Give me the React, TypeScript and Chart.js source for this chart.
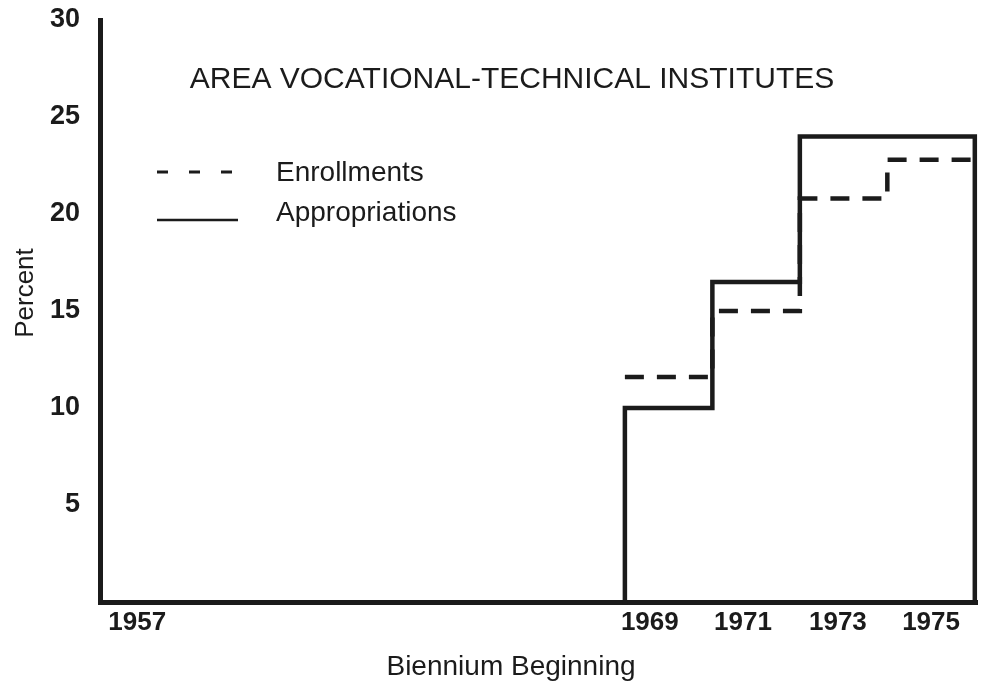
import React, { useEffect, useRef } from 'react';
import { Chart, registerables } from 'chart.js';

Chart.register(...registerables);

// ---- data ----
const bienniumStarts = [1969, 1971, 1973, 1975];
const bienniumEnd = 1977;
const appropriations = [10, 16.5, 24, 24];
const enrollments = [11.6, 15, 20.8, 22.8];

const xTickLabels = ['1957', '1969', '1971', '1973', '1975'];
const xTickPositions = [1957.85, 1969.57, 1971.7, 1973.87, 1976.0];
const yTickValues = [5, 10, 15, 20, 25, 30];

const titleText = 'AREA VOCATIONAL-TECHNICAL INSTITUTES';
const legendLabels = ['Enrollments', 'Appropriations'];
const xAxisTitle = 'Biennium Beginning';
const yAxisTitle = 'Percent';

const INK = '#1b1b1b';

const overlayPlugin = {
  id: 'overlayText',
  afterDraw(chart: any) {
    const ctx = chart.ctx as CanvasRenderingContext2D;
    ctx.save();
    ctx.fillStyle = INK;
    ctx.strokeStyle = INK;

    // title inside plot
    ctx.font = '30px "Liberation Sans", Arial, sans-serif';
    ctx.textAlign = 'center';
    ctx.textBaseline = 'alphabetic';
    ctx.fillText(titleText, 512, 88);

    // legend
    ctx.font = '28px "Liberation Sans", Arial, sans-serif';
    ctx.textAlign = 'left';
    ctx.fillText(legendLabels[0], 276, 181);
    ctx.fillText(legendLabels[1], 276, 221);

    ctx.lineWidth = 3;
    ctx.setLineDash([11, 21]);
    ctx.beginPath();
    ctx.moveTo(157, 172);
    ctx.lineTo(236, 172);
    ctx.stroke();
    ctx.setLineDash([]);
    ctx.lineWidth = 2.5;
    ctx.beginPath();
    ctx.moveTo(157, 220);
    ctx.lineTo(238, 220);
    ctx.stroke();

    // axis titles
    ctx.font = '28px "Liberation Sans", Arial, sans-serif';
    ctx.textAlign = 'center';
    ctx.fillText(xAxisTitle, 511, 675);

    ctx.translate(33, 293);
    ctx.rotate(-Math.PI / 2);
    ctx.font = '26px "Liberation Sans", Arial, sans-serif';
    ctx.textAlign = 'center';
    ctx.textBaseline = 'alphabetic';
    ctx.fillText(yAxisTitle, 0, 0);
    ctx.restore();
  },
};

export default function App() {
  const canvasRef = useRef<HTMLCanvasElement | null>(null);

  useEffect(() => {
    if (!canvasRef.current) return;

    const apprData = [
      { x: bienniumStarts[0], y: 0 },
      ...bienniumStarts.map((x, i) => ({ x, y: appropriations[i] })),
      { x: bienniumEnd, y: appropriations[appropriations.length - 1] },
      { x: bienniumEnd, y: 0 },
    ];
    const enrData = [
      ...bienniumStarts.map((x, i) => ({ x, y: enrollments[i] })),
      { x: bienniumEnd, y: enrollments[enrollments.length - 1] },
    ];

    const chart = new Chart(canvasRef.current, {
      type: 'line',
      data: {
        datasets: [
          {
            label: legendLabels[0],
            data: enrData,
            stepped: 'before',
            borderColor: INK,
            borderWidth: 4.5,
            borderDash: [19, 13],
            borderCapStyle: 'butt',
            borderJoinStyle: 'miter',
            pointRadius: 0,
            fill: false,
            clip: false,
          },
          {
            label: legendLabels[1],
            data: apprData,
            stepped: 'before',
            borderColor: INK,
            borderWidth: 4.5,
            borderCapStyle: 'square',
            borderJoinStyle: 'miter',
            pointRadius: 0,
            fill: false,
            clip: false,
          },
        ],
      } as any,
      options: {
        animation: false,
        responsive: false,
        devicePixelRatio: 1,
        layout: { padding: { top: 20, right: 6, left: 0, bottom: 0 } },
        plugins: {
          legend: { display: false },
          tooltip: { enabled: false },
          title: { display: false },
        },
        scales: {
          x: {
            type: 'linear',
            min: 1957,
            max: 1977.05,
            grid: { display: false, drawTicks: false },
            border: { display: true, width: 5, color: INK },
            afterBuildTicks: (scale: any) => {
              scale.ticks = xTickPositions.map((v) => ({ value: v }));
            },
            afterFit: (scale: any) => {
              scale.height = 79;
              scale.paddingLeft = 0;
              scale.paddingRight = 0;
            },
            ticks: {
              autoSkip: false,
              maxRotation: 0,
              padding: 5,
              color: INK,
              font: { family: '"Liberation Sans", Arial, sans-serif', size: 26, weight: 'bold' },
              callback: (_v: any, i: number) => xTickLabels[i],
            },
          },
          y: {
            type: 'linear',
            min: 0,
            max: 30,
            grid: { display: false, drawTicks: false },
            border: { display: true, width: 5, color: INK },
            afterBuildTicks: (scale: any) => {
              scale.ticks = yTickValues.map((v) => ({ value: v }));
            },
            afterFit: (scale: any) => {
              scale.width = 100;
              scale.paddingTop = 0;
              scale.paddingBottom = 0;
            },
            ticks: {
              padding: 20,
              color: INK,
              font: { family: '"Liberation Sans", Arial, sans-serif', size: 27, weight: 'bold' },
              callback: (v: any) => String(v),
            },
          },
        },
      } as any,
      plugins: [overlayPlugin],
    });

    return () => chart.destroy();
  }, []);

  return (
    <div style={{ position: 'fixed', left: 0, top: 0, width: 983, height: 681, background: '#fff' }}>
      <canvas ref={canvasRef} width={983} height={681} style={{ display: 'block' }} />
    </div>
  );
}
